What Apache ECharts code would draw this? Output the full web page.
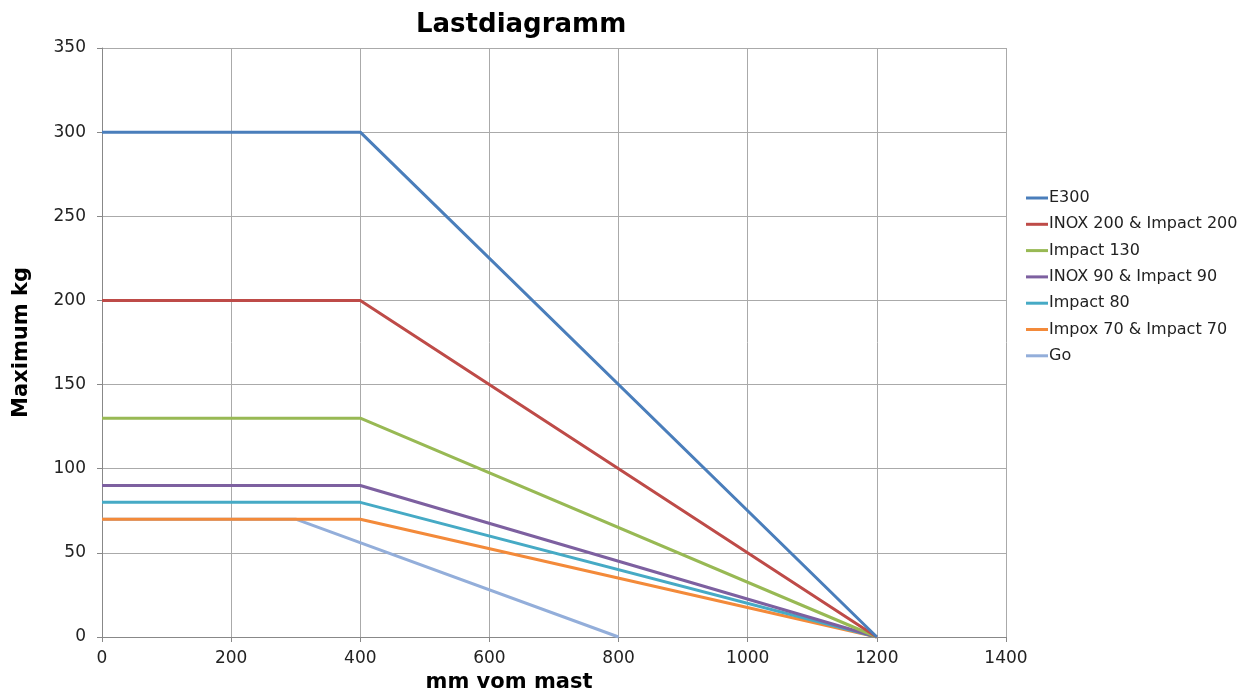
<!DOCTYPE html>
<html>
<head>
<meta charset="utf-8">
<script src="https://cdn.jsdelivr.net/npm/echarts@6/dist/echarts.min.js"></script>
<style>html,body{margin:0;padding:0;background:#fff}#c{width:1247px;height:688px}</style>
</head>
<body>
<div id="c"></div>
<script>
const seriesNames = ['E300','INOX 200 & Impact 200','Impact 130','INOX 90 & Impact 90','Impact 80','Impox 70 & Impact 70','Go'];
const seriesX = [
  [0,400,1200],
  [0,400,1200],
  [0,400,1200],
  [0,400,1200],
  [0,400,1200],
  [0,400,1200],
  [0,300,800]
];
const seriesY = [
  [300,300,0],
  [200,200,0],
  [130,130,0],
  [90,90,0],
  [80,80,0],
  [70,70,0],
  [70,70,0]
];
const colors = ['#4A7EBB','#BE4B48','#98B954','#7D60A0','#46AAC5','#F38A3A','#93AEDA'];

const font = 'Verdana, "DejaVu Sans", sans-serif';
const chart = echarts.init(document.getElementById('c'));
chart.setOption({
  animation:false,
  color: colors,
  title:{text:'Lastdiagramm',left:411,top:7,textStyle:{fontFamily:font,fontSize:26,fontWeight:'bold',color:'#000'}},
  grid:{left:102,right:241,top:48,bottom:51,outerBoundsMode:'none'},
  legend:{orient:'vertical',left:1021,top:183,itemWidth:22,itemHeight:3,itemGap:6.3,icon:'rect',
    textStyle:{fontFamily:font,fontSize:16,lineHeight:20,color:'#222',padding:[0,0,0,-4]},
    data:seriesNames},
  xAxis:{type:'value',min:0,max:1400,interval:200,
    name:'mm vom mast',nameLocation:'middle',nameGap:30,
    nameTextStyle:{fontFamily:font,fontSize:21,fontWeight:'bold',color:'#000',padding:[0,90,0,0]},
    axisLine:{show:true,lineStyle:{color:'#888'}},
    axisTick:{show:true,length:5,lineStyle:{color:'#888'}},
    axisLabel:{fontFamily:font,fontSize:17,color:'#222',margin:13,formatter:v=>String(v)},
    splitLine:{show:true,lineStyle:{color:'#aaa',width:1}}},
  yAxis:{type:'value',min:0,max:350,interval:50,
    name:'Maximum kg',nameLocation:'middle',nameGap:70,
    nameTextStyle:{fontFamily:font,fontSize:21,fontWeight:'bold',color:'#000'},
    axisLine:{show:true,lineStyle:{color:'#888'}},
    axisTick:{show:true,length:5,lineStyle:{color:'#888'}},
    axisLabel:{fontFamily:font,fontSize:17,color:'#222',margin:16,formatter:v=>String(v)},
    splitLine:{show:true,lineStyle:{color:'#aaa',width:1}}},
  series: seriesNames.map((n,i)=>({
    name:n,type:'line',symbol:'none',
    data: seriesX[i].map((x,j)=>[x,seriesY[i][j]]),
    lineStyle:{width:3,color:colors[i]},
    itemStyle:{color:colors[i]},
    z: 10 - i
  }))
});
</script>
</body>
</html>
